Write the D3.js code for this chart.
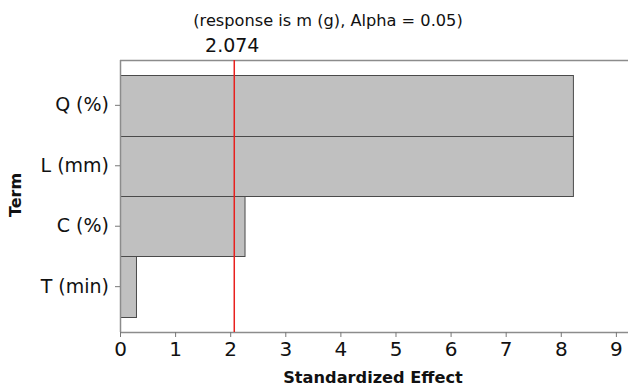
<!DOCTYPE html>
<html>
<head>
<meta charset="utf-8">
<script src="https://d3js.org/d3.v7.min.js"></script>
<style>
  body { margin: 0; background: #fff; }
  svg { display: block; font-family: "DejaVu Sans", sans-serif; }
</style>
</head>
<body>
<svg id="chart" width="628" height="388"></svg>
<script>
// values
var terms = ["Q (%)", "L (mm)", "C (%)", "T (min)"];
var effects = [8.22, 8.22, 2.26, 0.29];
var xTicks = [0, 1, 2, 3, 4, 5, 6, 7, 8, 9];
var critical = 2.074;

var svg = d3.select("#chart"),
    plotLeft = 120, plotRight = 628, plotTop = 60, plotBottom = 332;

var x = d3.scaleLinear().domain([0, 9.22]).range([plotLeft, plotRight]);
var y = d3.scaleBand().domain(terms).range([plotTop, plotBottom]).paddingInner(0).paddingOuter(0.25);

// bars
svg.selectAll("rect.bar").data(terms).enter().append("rect")
    .attr("class", "bar")
    .attr("x", x(0) + 0.5)
    .attr("y", function(d) { return Math.round(y(d)) + 0.5; })
    .attr("width", function(d, i) { return x(effects[i]) - x(0); })
    .attr("height", function(d) { return Math.round(y(d) + y.bandwidth()) - Math.round(y(d)); })
    .attr("fill", "#c0c0c0")
    .attr("stroke", "#4a4a4a")
    .attr("stroke-width", 1);

// frame top line
svg.append("line").attr("x1", plotLeft).attr("x2", plotRight).attr("y1", plotTop + 0.5).attr("y2", plotTop + 0.5)
    .attr("stroke", "#8c8c8c").attr("stroke-width", 1.5);

// x axis
var xAxis = svg.append("g").attr("transform", "translate(0," + plotBottom + ")")
    .call(d3.axisBottom(x).tickValues(xTicks).tickSize(5).tickPadding(5).tickFormat(d3.format("d")));
xAxis.select(".domain").attr("stroke", "#8c8c8c").attr("stroke-width", 1.5).attr("d", "M" + plotLeft + ",0.5H" + plotRight);
xAxis.selectAll(".tick line").attr("stroke", "#777");
xAxis.selectAll(".tick text").attr("font-size", 20).attr("fill", "#111").attr("font-family", "DejaVu Sans");

// y axis
var yAxis = svg.append("g").attr("transform", "translate(" + plotLeft + ",0)")
    .call(d3.axisLeft(y).tickSize(5).tickPadding(6));
yAxis.select(".domain").attr("stroke", "#8c8c8c").attr("stroke-width", 1.5).attr("d", "M0.5," + plotTop + "V" + plotBottom);
yAxis.selectAll(".tick line").attr("stroke", "#777");
yAxis.selectAll(".tick text").attr("font-size", 19).attr("fill", "#111").attr("font-family", "DejaVu Sans");

// reference line
svg.append("line")
    .attr("x1", x(critical)).attr("x2", x(critical))
    .attr("y1", plotTop).attr("y2", plotBottom)
    .attr("stroke", "#e8201e").attr("stroke-width", 1.5);

svg.append("text")
    .attr("x", x(critical) - 2).attr("y", 52)
    .attr("text-anchor", "middle")
    .attr("font-size", 19)
    .attr("fill", "#111")
    .text(critical.toFixed(3));

// titles
svg.append("text")
    .attr("x", 328).attr("y", 26)
    .attr("text-anchor", "middle")
    .attr("font-size", 16.2)
    .attr("fill", "#111")
    .text("(response is m (g), Alpha = 0.05)");

svg.append("text")
    .attr("x", 373).attr("y", 383)
    .attr("text-anchor", "middle")
    .attr("font-size", 16.2)
    .attr("font-weight", "bold")
    .attr("fill", "#111")
    .text("Standardized Effect");

svg.append("text")
    .attr("transform", "translate(21,195) rotate(-90)")
    .attr("text-anchor", "middle")
    .attr("font-size", 16)
    .attr("font-weight", "bold")
    .attr("fill", "#111")
    .text("Term");
</script>
</body>
</html>
